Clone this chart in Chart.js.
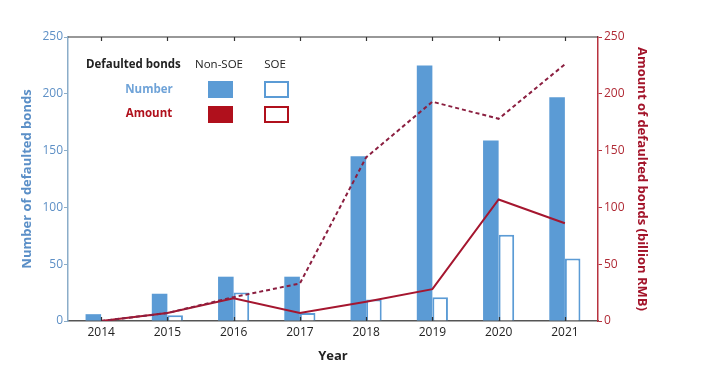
<!DOCTYPE html>
<html>
<head>
<meta charset="utf-8">
<script src="https://cdn.jsdelivr.net/npm/chart.js@4.4.1/dist/chart.umd.min.js"></script>
<style>
  html, body { margin: 0; padding: 0; background: #fff; }
  #wrap { width: 702px; height: 370px; position: relative; }
</style>
</head>
<body>
<div id="wrap"><canvas id="chart"></canvas></div>
<script>
// data
const years = ["2014", "2015", "2016", "2017", "2018", "2019", "2020", "2021"];
const nonSoeNumber = [6, 24, 39, 39, 145, 225, 159, 197];
const soeNumber = [0, 5, 25, 7, 19, 21, 76, 55];
const nonSoeAmount = [0, 7, 21, 33, 144, 193, 178, 226];
const soeAmount = [0, 7, 20, 7, 17, 28, 107, 86];
const axisTicks = [0, 50, 100, 150, 200, 250];

const BLUE = "#5b9bd5";
const RED = "#b0101c";
const FONT = "'Open Sans', 'Noto Sans', sans-serif";

// legend block + top border + inward x ticks
const decorPlugin = {
  id: "decor",
  afterDraw(chart) {
    const { ctx, chartArea: a, scales } = chart;
    const x = scales.x;
    ctx.save();
    ctx.strokeStyle = "#333";
    ctx.lineWidth = 1.2;
    ctx.beginPath();
    ctx.moveTo(a.left, a.top);
    ctx.lineTo(a.right, a.top);
    years.forEach((_, i) => {
      const px = Math.round(x.getPixelForValue(i)) + 0.5;
      ctx.moveTo(px, a.top);
      ctx.lineTo(px, a.top + 4);
      ctx.moveTo(px, a.bottom);
      ctx.lineTo(px, a.bottom - 4);
    });
    ctx.stroke();

    // legend
    ctx.textBaseline = "middle";
    ctx.font = "bold 11.5px " + FONT;
    ctx.fillStyle = "#222";
    ctx.textAlign = "left";
    ctx.fillText("Defaulted bonds", 86, 65);
    ctx.font = "11.5px " + FONT;
    ctx.textAlign = "center";
    ctx.fillText("Non-SOE", 219, 65);
    ctx.fillText("SOE", 275, 65);

    ctx.font = "bold 11.5px " + FONT;
    ctx.fillStyle = "#6fa3d8";
    ctx.fillText("Number", 149, 90);
    ctx.fillStyle = RED;
    ctx.fillText("Amount", 149, 114);

    ctx.fillStyle = BLUE;
    ctx.fillRect(208, 81, 25, 17);
    ctx.lineWidth = 2;
    ctx.strokeStyle = BLUE;
    ctx.strokeRect(265, 82, 23, 15);

    ctx.fillStyle = RED;
    ctx.fillRect(208, 106, 25, 17);
    ctx.strokeStyle = RED;
    ctx.strokeRect(265, 107, 23, 15);
    ctx.restore();
  }
};

new Chart(document.getElementById("chart"), {
  type: "bar",
  data: {
    labels: years,
    datasets: [
      {
        type: "line", label: "Amount Non-SOE", data: nonSoeAmount, yAxisID: "y1",
        borderColor: "#8b1f40", borderWidth: 2, borderDash: [4, 3],
        pointRadius: 0, tension: 0, order: 1
      },
      {
        type: "line", label: "Amount SOE", data: soeAmount, yAxisID: "y1",
        borderColor: "#a5162f", borderWidth: 2,
        pointRadius: 0, tension: 0, order: 1
      },
      {
        label: "Number Non-SOE", data: nonSoeNumber, yAxisID: "y",
        backgroundColor: BLUE, categoryPercentage: 0.47, barPercentage: 1.0, order: 2
      },
      {
        label: "Number SOE", data: soeNumber, yAxisID: "y",
        backgroundColor: "#fff", borderColor: BLUE, borderWidth: 2,
        categoryPercentage: 0.47, barPercentage: 1.0, order: 2
      }
    ]
  },
  options: {
    responsive: true,
    maintainAspectRatio: false,
    animation: false,
    layout: { padding: { left: 15, right: 48, top: 37, bottom: 2 } },
    plugins: { legend: { display: false }, tooltip: { enabled: false } },
    scales: {
      x: {
        offset: true,
        grid: { display: false, drawTicks: false },
        border: { color: "#555", width: 1.5 },
        ticks: { color: "#222", font: { family: FONT, size: 12 }, padding: 4, maxRotation: 0 },
        title: { display: true, text: "Year", color: "#222", font: { family: FONT, size: 13, weight: "bold" } },
        afterFit(s) { s.height = 47; }
      },
      y: {
        position: "left",
        min: 0, max: 250,
        afterBuildTicks(s) { s.ticks = axisTicks.map(v => ({ value: v })); },
        grid: { drawOnChartArea: false, tickLength: 4, color: "#8badc9" },
        border: { color: "#8badc9", width: 1.5 },
        ticks: { color: "#5e90c6", font: { family: FONT, size: 12 }, padding: 1 },
        title: { display: true, text: "Number of defaulted bonds", color: "#5b8fc7", font: { family: FONT, size: 13, weight: "bold" } },
        afterFit(s) { s.width = 53; }
      },
      y1: {
        position: "right",
        min: 0, max: 250,
        afterBuildTicks(s) { s.ticks = axisTicks.map(v => ({ value: v })); },
        grid: { drawOnChartArea: false, tickLength: 4, color: "#b8323f" },
        border: { color: "#b8323f", width: 1.5 },
        ticks: { color: "#b02a35", font: { family: FONT, size: 12 }, padding: 2 },
        title: { display: true, text: "Amount of defaulted bonds (billion RMB)", color: "#a3142a", font: { family: FONT, size: 13, weight: "bold" } },
        afterFit(s) { s.width = 56; }
      }
    }
  },
  plugins: [decorPlugin]
});
</script>
</body>
</html>
